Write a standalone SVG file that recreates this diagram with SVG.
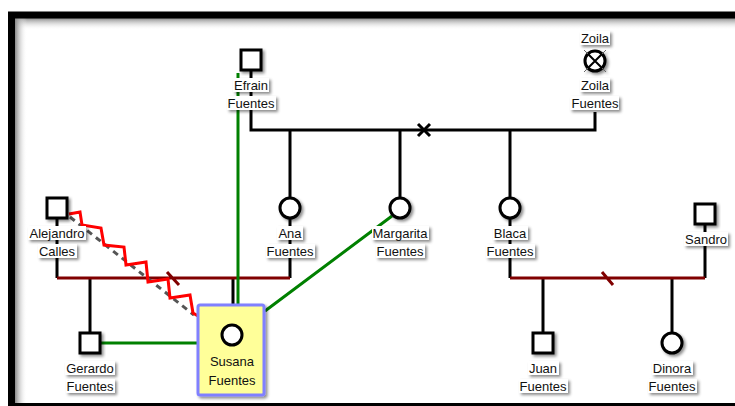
<svg xmlns="http://www.w3.org/2000/svg" width="735" height="406" viewBox="0 0 735 406">
<style>
.ln{fill:none;stroke:#000;stroke-width:3}
.mr{fill:none;stroke:#800000;stroke-width:3}
.gr{fill:none;stroke:#008000;stroke-width:3}
.sym{fill:#fff;stroke:#000;stroke-width:3}
.bg{fill:#fff}
.t{font-family:"Liberation Sans",Arial,sans-serif;font-size:13px;fill:#111;text-anchor:middle}
</style>
<defs>
<filter id="sh" x="-30%" y="-30%" width="160%" height="160%">
<feDropShadow dx="2" dy="2" stdDeviation="1.5" flood-color="#000" flood-opacity="0.45"/>
</filter>
<linearGradient id="gt" x1="0" y1="0" x2="0" y2="1">
<stop offset="0" stop-color="#888"/><stop offset="1" stop-color="#fff" stop-opacity="0"/>
</linearGradient>
<linearGradient id="gl" x1="0" y1="0" x2="1" y2="0">
<stop offset="0" stop-color="#888"/><stop offset="1" stop-color="#fff" stop-opacity="0"/>
</linearGradient>
</defs>
<rect width="735" height="406" fill="#fff"/>
<g id="frame">
<rect x="15" y="18" width="720" height="12" fill="url(#gt)"/>
<rect x="15" y="18" width="12" height="388" fill="url(#gl)"/>
<rect x="11.5" y="15" width="800" height="391.5" fill="none" stroke="#000" stroke-width="7"/>
</g>
<g id="connectors">
<polyline class="ln" points="251,70 251,130 595,130 595,112"/>
<path class="ln" d="M290,130V198M400,130V198M510,130V198"/>
<path class="ln" d="M418,124l12,12M430,124l-12,12"/>
<path class="ln" d="M57,219V278M290,218V278M90,278V333M233,278V305"/>
<path class="mr" d="M57,278H290M167,272l12,13"/>
<path class="ln" d="M510,218V278M705,224V278M543,278V333M672,278V333"/>
<path class="mr" d="M510,278H705M602,272l11,13"/>
<path class="gr" d="M238,73V305M392,216L265,311M101,343H198"/>
<line x1="70" y1="217" x2="194" y2="315" stroke="#555" stroke-width="3" stroke-dasharray="6,5"/>
<polyline points="69,214 80,212 82,225 101,228 104,245 124,247 126,265 146,262 148,282 168,279 170,298 190,295 193,313 198,316" fill="none" stroke="#f00" stroke-width="3" stroke-linejoin="miter"/>
</g>
<g id="susana">
<rect x="198" y="305" width="66" height="90" rx="2" fill="#ffff99" stroke="#8080ff" stroke-width="3" filter="url(#sh)"/>
<circle class="sym" cx="232" cy="335" r="10"/>
<text class="t" x="232" y="366">Susana</text>
<text class="t" x="232" y="385">Fuentes</text>
</g>
<g id="efrain" filter="url(#sh)">
<rect class="sym" x="241" y="50" width="20" height="20"/>
</g>
<g id="zoila" filter="url(#sh)">
<circle class="sym" cx="595" cy="61" r="10"/>
<path d="M588,54l14,14M602,54l-14,14" stroke="#000" stroke-width="2"/>
<path d="M584,50l4,4M606,50l-4,4M584,72l4,-4M606,72l-4,-4" stroke="#666" stroke-width="1"/>
</g>
<g id="ana" filter="url(#sh)"><circle class="sym" cx="290" cy="208" r="10"/></g>
<g id="margarita" filter="url(#sh)"><circle class="sym" cx="400" cy="208" r="10"/></g>
<g id="blaca" filter="url(#sh)"><circle class="sym" cx="510" cy="208" r="10"/></g>
<g id="alejandro" filter="url(#sh)"><rect class="sym" x="47" y="198" width="20" height="20"/></g>
<g id="sandro" filter="url(#sh)"><rect class="sym" x="695" y="204" width="20" height="20"/></g>
<g id="gerardo" filter="url(#sh)"><rect class="sym" x="80" y="333" width="20" height="20"/></g>
<g id="juan" filter="url(#sh)"><rect class="sym" x="533" y="333" width="20" height="20"/></g>
<g id="dinora" filter="url(#sh)"><circle class="sym" cx="672" cy="343" r="10"/></g>
<g id="labels">
<g filter="url(#sh)">
<rect class="bg" x="233" y="78" width="36" height="14"/>
<rect class="bg" x="227" y="96" width="49" height="14"/>
<rect class="bg" x="580" y="31" width="30" height="14"/>
<rect class="bg" x="580" y="78" width="30" height="14"/>
<rect class="bg" x="570" y="96" width="49" height="14"/>
<rect class="bg" x="277" y="226" width="26" height="14"/>
<rect class="bg" x="266" y="244" width="49" height="14"/>
<rect class="bg" x="372" y="226" width="57" height="14"/>
<rect class="bg" x="376" y="244" width="49" height="14"/>
<rect class="bg" x="493" y="226" width="35" height="14"/>
<rect class="bg" x="486" y="244" width="49" height="14"/>
<rect class="bg" x="28" y="226" width="58" height="14"/>
<rect class="bg" x="38" y="244" width="39" height="14"/>
<rect class="bg" x="684" y="232" width="44" height="14"/>
<rect class="bg" x="65" y="361" width="50" height="14"/>
<rect class="bg" x="66" y="379" width="49" height="14"/>
<rect class="bg" x="528" y="361" width="31" height="14"/>
<rect class="bg" x="519" y="379" width="49" height="14"/>
<rect class="bg" x="652" y="361" width="41" height="14"/>
<rect class="bg" x="648" y="379" width="49" height="14"/>
</g>
<text class="t" x="251" y="89.5">Efrain</text>
<text class="t" x="251" y="107.5">Fuentes</text>
<text class="t" x="595" y="42.5">Zoila</text>
<text class="t" x="595" y="89.5">Zoila</text>
<text class="t" x="595" y="107.5">Fuentes</text>
<text class="t" x="290" y="237.5">Ana</text>
<text class="t" x="290" y="255.5">Fuentes</text>
<text class="t" x="400" y="237.5">Margarita</text>
<text class="t" x="400" y="255.5">Fuentes</text>
<text class="t" x="510" y="237.5">Blaca</text>
<text class="t" x="510" y="255.5">Fuentes</text>
<text class="t" x="57" y="237.5">Alejandro</text>
<text class="t" x="57" y="255.5">Calles</text>
<text class="t" x="706" y="243.5">Sandro</text>
<text class="t" x="90" y="372.5">Gerardo</text>
<text class="t" x="90" y="390.5">Fuentes</text>
<text class="t" x="543" y="372.5">Juan</text>
<text class="t" x="543" y="390.5">Fuentes</text>
<text class="t" x="672" y="372.5">Dinora</text>
<text class="t" x="672" y="390.5">Fuentes</text>
</g>
</svg>
